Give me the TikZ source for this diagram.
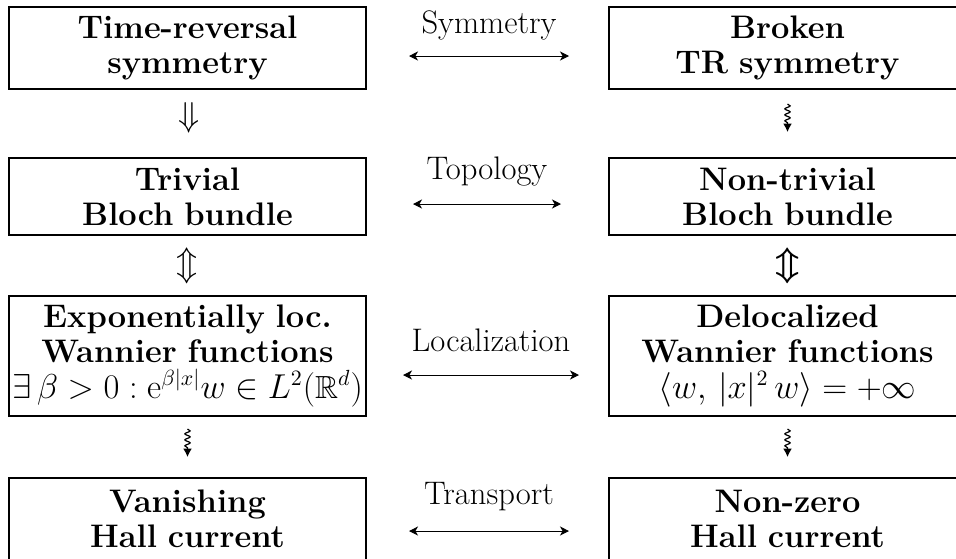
\documentclass[tikz,border=0pt]{standalone}
\usepackage{amsmath}
\usepackage{amsfonts}
\usepackage{amssymb}
\usetikzlibrary{calc,arrows.meta,decorations.pathmorphing}

\begin{document}
\begin{tikzpicture}[x=0.5pt,y=-0.5pt]
\tikzstyle{every node}+=[font=\fontsize{16.3}{17.3}\selectfont]
\tikzstyle{box}=[draw=black, line width=1pt, text width=178.5pt, inner xsep=0pt, align=center]
\tikzstyle{harrow}=[{Stealth[length=4.5pt,width=4.5pt,inset=1.3pt]}-{Stealth[length=4.5pt,width=4.5pt,inset=1.3pt]}, line width=0.5pt]
\tikzstyle{squig}=[-{Latex[length=4.2pt,width=4.4pt]}, line width=0.6pt, decorate,
  decoration={snake, amplitude=1.3pt, segment length=3pt, post length=3.5pt}]
\useasboundingbox (0,0) rectangle (956,558);
% left column
\node [box, minimum height=41pt] (trs) at (187.5,48) {\textbf{Time-reversal}\\ \textbf{symmetry}};
\node [box, minimum height=38.5pt] (triv) at (187.5,196.5) {\textbf{Trivial}\\ \textbf{Bloch bundle}};
\node [box, minimum height=60pt] (expl) at (187.5,356) {\textbf{Exponentially loc.}\\ \textbf{Wannier functions}\\[0.5pt] \mbox{\fontsize{16}{17.3}\selectfont$\exists\,\beta>0 : \mathrm{e}^{\beta|x|}w\in L^2(\mathbb{R}^d)$}};
\node [box, minimum height=41pt] (van) at (187.5,519) {\textbf{Vanishing}\\ \textbf{Hall current}};
% right column
\node [box, minimum height=41pt] (brk) at (787.5,48) {\textbf{Broken}\\ \textbf{TR symmetry}};
\node [box, minimum height=38.5pt] (ntriv) at (787.5,196.5) {\textbf{Non-trivial}\\ \textbf{Bloch bundle}};
\node [box, minimum height=60pt] (deloc) at (787.5,356) {\textbf{Delocalized}\\ \textbf{Wannier functions}\\[0.5pt] \mbox{$\langle w,\,|x|^2\,w\rangle=+\infty$}};
\node [box, minimum height=41pt] (nzero) at (787.5,519) {\textbf{Non-zero}\\ \textbf{Hall current}};
% middle labels
\node (sym) at (489,25) {Symmetry};
\node (top) at (487,172) {Topology};
\node (loc) at (491,340) {Localization};
\node (tra) at (489,497) {Transport};
\draw [harrow, shorten <=21pt, shorten >=19.5pt] ([yshift=-4pt]trs.east) -- ([yshift=-4pt]brk.west);
\draw [harrow, shorten <=23pt, shorten >=23.5pt] ([yshift=-3.75pt]triv.east) -- ([yshift=-3.75pt]ntriv.west);
\draw [harrow, shorten <=18pt, shorten >=14.5pt] ([yshift=-9.5pt]expl.east) -- ([yshift=-9.5pt]deloc.west);
\draw [harrow, shorten <=21pt, shorten >=19.5pt] ([yshift=-6pt]van.east) -- ([yshift=-6pt]nzero.west);
% vertical relations
\node (d1) at ($(trs.south)!0.5!(triv.north)+(2,-6)$) {$\Downarrow$};
\node (d2) at ($(triv.south)!0.5!(expl.north)$) {$\Updownarrow$};
\node (d5) at ($(ntriv.south)!0.5!(deloc.north)$) {$\boldsymbol{\Updownarrow}$};
\draw [squig] ([yshift=-7pt]brk.south) -- ([yshift=12.5pt]ntriv.north);
\draw [squig] ([yshift=-6pt]expl.south) -- ([yshift=10pt]van.north);
\draw [squig] ([yshift=-6pt]deloc.south) -- ([yshift=10pt]nzero.north);
\end{tikzpicture}
\end{document}
